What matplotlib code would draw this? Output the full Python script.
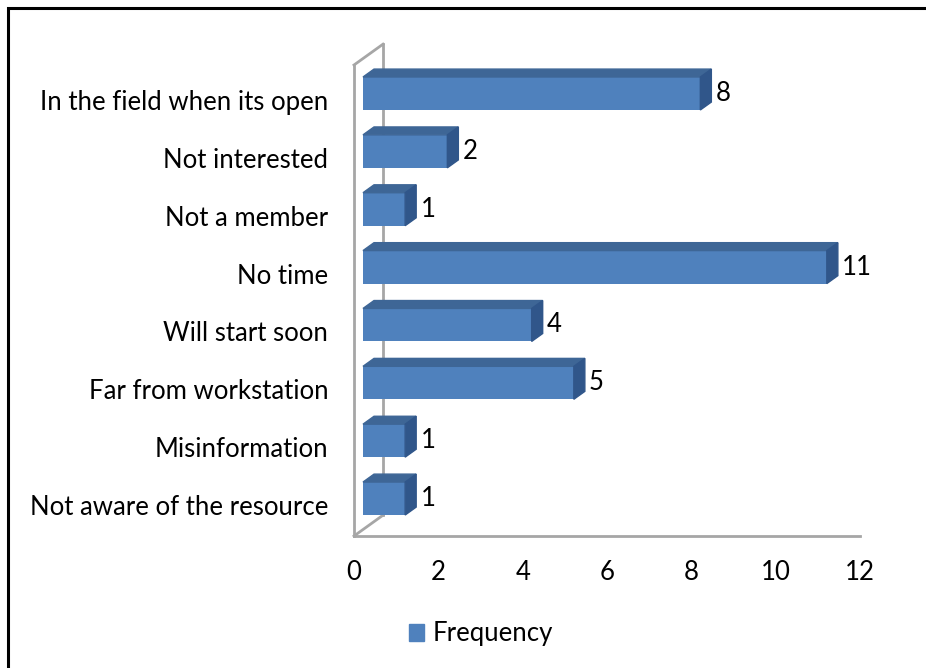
import matplotlib.pyplot as plt
from matplotlib.patches import Polygon, Rectangle, Patch

# === Данные (снизу вверх) ===
categories = ['Not aware of the resource', 'Misinformation', 'Far from workstation',
              'Will start soon', 'No time', 'Not a member', 'Not interested',
              'In the field when its open']
values = [1, 1, 5, 4, 11, 1, 2, 8]
xticks = [0, 2, 4, 6, 8, 10, 12]
series_name = 'Frequency'

# === Цвета ===
c_front = '#4F81BD'
c_top = '#3E6696'
c_side = '#30568A'
c_wall = '#A6A6A6'

plt.rcParams['font.family'] = ['Lato', 'DejaVu Sans']
fs = 18.5

fig = plt.figure(figsize=(9.26, 6.68), dpi=100)
ax = fig.add_axes([354 / 926, 132 / 668, 506 / 926, 0.7394])
ax.set_xlim(0, 12)
ax.set_ylim(-0.536, 8.0)

# глубина "3D" в единицах данных
dx, dy = 0.688, 0.36
f0, f1 = 0.31, 0.69
bh = 0.57
y0, ytop = -0.536, 7.604

# стенка и пол
lw = 2
ax.plot([0, 0], [y0, ytop], color=c_wall, lw=lw, clip_on=False)
ax.plot([dx, dx], [y0 + dy, ytop + dy], color=c_wall, lw=lw, clip_on=False, zorder=1)
ax.plot([0, dx], [ytop, ytop + dy], color=c_wall, lw=lw, clip_on=False)
ax.plot([0, dx], [y0, y0 + dy], color=c_wall, lw=lw, clip_on=False, zorder=1)
ax.plot([0, 12], [y0, y0], color=c_wall, lw=lw, clip_on=False)

# бары
ox, oy = f0 * dx, f0 * dy
bdx, bdy = (f1 - f0) * dx, (f1 - f0) * dy
for k, v in enumerate(values):
    yc = k + oy
    yb, yt = yc - bh / 2, yc + bh / 2
    xl, xr = ox, ox + v
    ax.barh(yc, v, left=xl, height=bh, color=c_front, zorder=3)
    ax.add_patch(Polygon([(xl, yt), (xr, yt), (xr + bdx, yt + bdy), (xl + bdx, yt + bdy)],
                         closed=True, color=c_top, zorder=3))
    ax.add_patch(Polygon([(xr, yb), (xr + bdx, yb + bdy), (xr + bdx, yt + bdy), (xr, yt)],
                         closed=True, color=c_side, zorder=3))
    ax.text(xr + bdx + 0.1, yc, str(v), ha='left', va='center', fontsize=fs, zorder=4)

ax.set_yticks(range(len(categories)))
ax.set_yticklabels(categories, fontsize=fs)
ax.set_xticks(xticks)
ax.set_xticklabels([str(t) for t in xticks], fontsize=fs)
ax.tick_params(axis='y', length=0, pad=18.5)
ax.tick_params(axis='x', length=0, pad=17)
for s in ax.spines.values():
    s.set_visible(False)

# легенда
fig.legend(handles=[Patch(color=c_front, label=series_name)], loc='center',
           bbox_to_anchor=(481 / 926, 34 / 668), frameon=False, fontsize=fs,
           handlelength=0.6, handleheight=0.6, handletextpad=0.35)

# рамка
fig.add_artist(Rectangle((8 / 926, -0.1), 1.0, (660 / 668) + 0.1, transform=fig.transFigure,
                         fill=False, edgecolor='black', lw=2.2))

fig.savefig('out.png', dpi=100)
